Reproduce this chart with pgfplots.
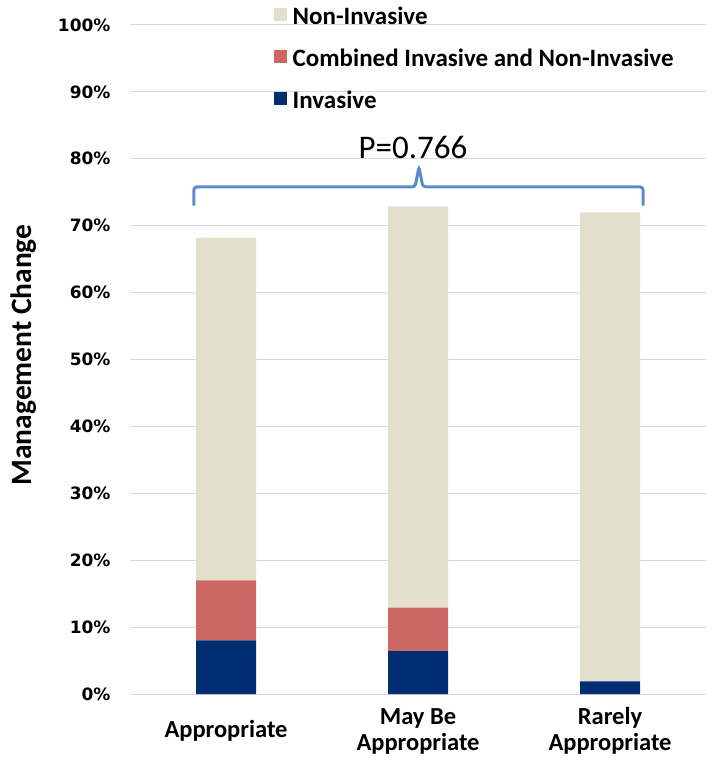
\documentclass[border=0pt]{standalone}
\usepackage{pgfplots}
\pgfplotsset{compat=1.18}
\usepackage{fontspec}
\setmainfont{Carlito}
\newfontfamily\dejavu{DejaVu Sans}
\definecolor{navyc}{HTML}{002E73}
\definecolor{redc}{HTML}{CD6761}
\definecolor{beigec}{HTML}{E2DFCC}
\definecolor{bracec}{HTML}{5A8ACB}
\definecolor{gridc}{HTML}{D9D9D9}
\begin{document}
\begin{tikzpicture}
\useasboundingbox (-130pt,-69pt) rectangle (584pt,694pt);
\begin{axis}[
  scale only axis,
  width=576pt, height=669pt,
  ybar stacked, bar width=60pt,
  xmin=-0.5, xmax=2.5, ymin=0, ymax=100,
  enlargelimits=false,
  axis line style={draw=none},
  major tick length=0pt,
  ymajorgrids, grid style={gridc, line width=1pt},
  ytick={0,10,...,100},
  yticklabels={0\%,10\%,20\%,30\%,40\%,50\%,60\%,70\%,80\%,90\%,100\%},
  yticklabel style={font=\dejavu\bfseries\fontsize{17}{19}\selectfont, xshift=-16pt},
  xtick={0,1,2},
  xticklabels={Appropriate,{May Be\\Appropriate},{Rarely\\Appropriate}},
  xticklabel style={font=\bfseries\fontsize{24.5}{26}\selectfont, align=center, anchor=center, yshift=-37pt},
  reverse legend,
  legend cell align=left,
  legend style={draw=none, fill=none, at={(0.244,1.033)}, anchor=north west,
    font=\bfseries\fontsize{25}{30}\selectfont, row sep=19pt,
    /tikz/every even column/.append style={column sep=0pt}},
  legend image code/.code={\fill[#1] (0pt,-4pt) rectangle (13pt,9pt); \path (17pt,0pt);},
]
\addplot[fill=navyc, draw=none] coordinates {(0,8) (1,6.4) (2,1.9)};
\addplot[fill=redc, draw=none] coordinates {(0,9) (1,6.5) (2,0)};
\addplot[fill=beigec, draw=none] coordinates {(0,51.2) (1,60) (2,70.1)};
\legend{Invasive, Combined Invasive and Non-Invasive, Non-Invasive}
\draw[bracec, line width=3pt, rounded corners=3pt]
  (axis cs:-0.167,73) -- (axis cs:-0.167,75.8) -- (axis cs:0.985,75.8)
  -- (axis cs:1.005,78.8) -- (axis cs:1.025,75.8) -- (axis cs:2.172,75.8)
  -- (axis cs:2.172,73);
\node[anchor=base, font=\fontsize{33}{38}\selectfont] at (axis cs:0.974,80) {P=0.766};
\end{axis}
\node[rotate=90, font=\bfseries\fontsize{29.5}{34}\selectfont] at (-106pt,339pt) {Management Change};
\end{tikzpicture}
\end{document}
